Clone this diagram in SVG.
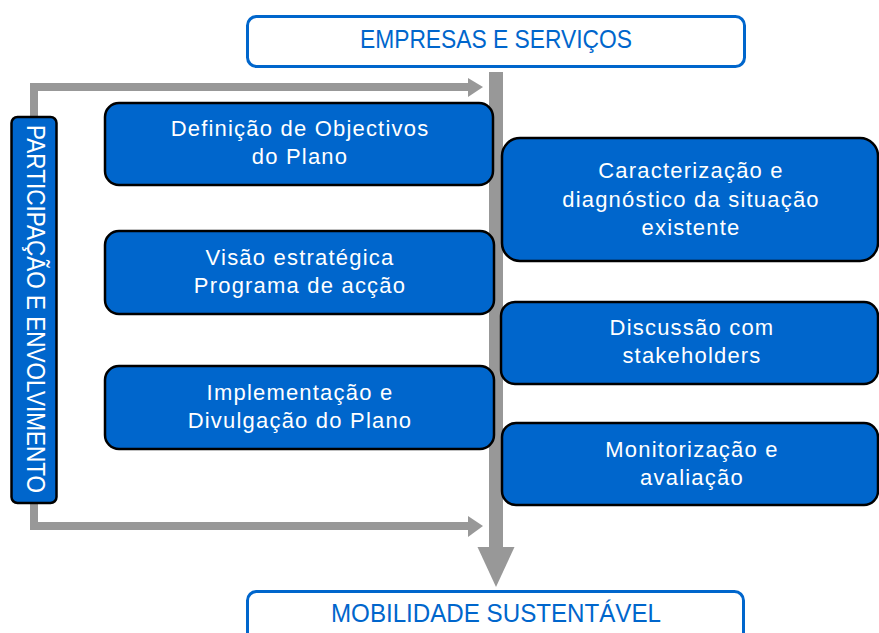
<svg xmlns="http://www.w3.org/2000/svg" width="879" height="633" viewBox="0 0 879 633">
<style>
.hdr{fill:#fff;stroke:#0066CC;stroke-width:3}
.hdrt{fill:#0066CC;font-family:"Liberation Sans",Arial,sans-serif;font-size:26px;text-anchor:middle}
.node{fill:#0066CC;stroke:#000;stroke-width:2.5}
.nt{fill:#fff;font-family:"Liberation Sans",Arial,sans-serif;font-size:22px;letter-spacing:1.2px;text-anchor:middle}
.conn{fill:none;stroke:#989898;stroke-width:8}
.head{fill:#989898}
</style>
<g id="connectors">
  <rect x="489" y="72" width="14" height="476" class="head"/>
  <polygon points="477.5,547 514.5,547 496,587" class="head"/>
  <path d="M34,118 V87 H470" class="conn"/>
  <polygon points="468,78 483,87 468,97" class="head"/>
  <path d="M34,502 V526 H470" class="conn"/>
  <polygon points="468,516 483,526 468,537" class="head"/>
</g>
<g id="empresas">
  <rect x="247.5" y="16.5" width="497" height="50" rx="9" class="hdr"/>
  <text x="496" y="48" class="hdrt" textLength="272" lengthAdjust="spacingAndGlyphs">EMPRESAS E SERVIÇOS</text>
</g>
<g id="mobilidade">
  <rect x="247.5" y="591.5" width="496" height="60" rx="9" class="hdr"/>
  <text x="496" y="622" class="hdrt" textLength="330" lengthAdjust="spacingAndGlyphs">MOBILIDADE SUSTENTÁVEL</text>
</g>
<g id="participacao">
  <rect x="11.5" y="117" width="45" height="386" rx="6" class="node"/>
  <text transform="translate(27,309) rotate(90)" x="0" y="0" fill="#fff" font-family="'Liberation Sans',Arial,sans-serif" font-size="26" text-anchor="middle" textLength="368" lengthAdjust="spacingAndGlyphs">PARTICIPAÇÃO E ENVOLVIMENTO</text>
</g>
<g id="definicao">
  <rect x="105" y="103" width="388" height="82" rx="14" class="node"/>
  <text x="300" y="136" class="nt">Definição de Objectivos</text>
  <text x="300" y="164" class="nt">do Plano</text>
</g>
<g id="visao">
  <rect x="105" y="231" width="389" height="83" rx="14" class="node"/>
  <text x="300" y="265" class="nt">Visão estratégica</text>
  <text x="300" y="293" class="nt">Programa de acção</text>
</g>
<g id="implementacao">
  <rect x="105" y="366" width="389" height="83" rx="14" class="node"/>
  <text x="300" y="400" class="nt">Implementação e</text>
  <text x="300" y="428" class="nt">Divulgação do Plano</text>
</g>
<g id="caracterizacao">
  <rect x="502" y="138" width="376" height="123" rx="18" class="node"/>
  <text x="691" y="178" class="nt">Caracterização e</text>
  <text x="691" y="207" class="nt">diagnóstico da situação</text>
  <text x="691" y="235" class="nt">existente</text>
</g>
<g id="discussao">
  <rect x="501" y="302" width="377" height="82" rx="14" class="node"/>
  <text x="692" y="335" class="nt">Discussão com</text>
  <text x="692" y="363" class="nt">stakeholders</text>
</g>
<g id="monitorizacao">
  <rect x="502" y="423" width="376" height="82" rx="14" class="node"/>
  <text x="692" y="457" class="nt">Monitorização e</text>
  <text x="692" y="485" class="nt">avaliação</text>
</g>
</svg>
